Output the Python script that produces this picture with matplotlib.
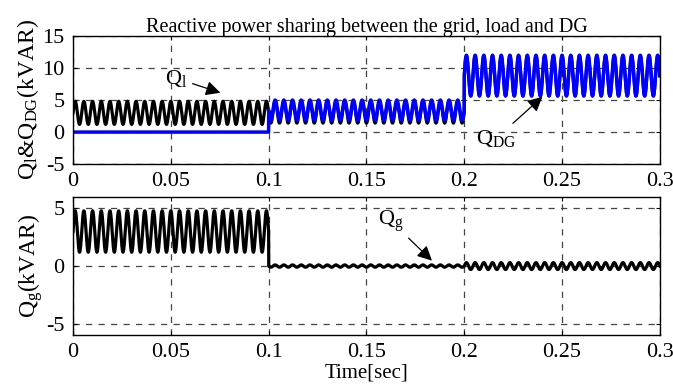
import numpy as np
import matplotlib
matplotlib.use("Agg")
import matplotlib.pyplot as plt

plt.rcParams['font.family'] = 'Liberation Serif'
plt.rcParams['mathtext.fontset'] = 'custom'
plt.rcParams['mathtext.rm'] = 'Liberation Serif'
plt.rcParams['mathtext.it'] = 'Liberation Serif:italic'
plt.rcParams['axes.unicode_minus'] = False

# segment boundaries (sec) and ripple envelope (kVAR)
seg_edges = [0.0, 0.1, 0.2, 0.3]
ripple_hz = 225

ql_low = [1.2, 1.4, 5.6]
ql_high = [4.8, 4.8, 11.9]
qdg_low = [0.0, 1.9, 5.7]
qdg_high = [0.0, 5.0, 12.0]
qg_low = [1.2, -0.1, -0.3]
qg_high = [4.8, 0.1, 0.3]

xticks = [0, 0.05, 0.1, 0.15, 0.2, 0.25, 0.3]
xticklabels = ['0', '0.05', '0.1', '0.15', '0.2', '0.25', '0.3']
top_yticks = [-5, 0, 5, 10, 15]
bot_yticks = [-5, 0, 5]


def build_wave(low, high, n=8000):
    t = np.linspace(seg_edges[0], seg_edges[-1], n)
    y = np.zeros_like(t)
    osc = 0.5 * (1 + np.sin(2 * np.pi * ripple_hz * t))
    for i in range(len(low)):
        m = (t >= seg_edges[i]) & (t < seg_edges[i + 1] + 1e-9)
        y[m] = low[i] + (high[i] - low[i]) * osc[m]
    return t, y


t, ql = build_wave(ql_low, ql_high)
_, qdg = build_wave(qdg_low, qdg_high)
_, qg = build_wave(qg_low, qg_high)

fig = plt.figure(figsize=(6.73, 3.87), dpi=100)
ax1 = fig.add_axes([0.1085, 0.576, 0.872, 0.331])
ax2 = fig.add_axes([0.1085, 0.134, 0.872, 0.357])

ax1.plot(t, ql, color='black', lw=2.3)
ax1.plot(t, qdg, color='#0000ff', lw=2.5)
ax2.plot(t, qg, color='black', lw=2.3)

for ax in (ax1, ax2):
    ax.set_xlim(0, 0.3)
    ax.set_xticks(xticks)
    ax.set_xticklabels(xticklabels)
    ax.grid(True, color='#444444', linestyle=(0, (5, 5)), lw=0.9)
    ax.tick_params(direction='in', length=3, labelsize=16, top=True, right=True, pad=6)
    for s in ax.spines.values():
        s.set_linewidth(1.0)

ax1.set_ylim(-5, 15)
ax1.set_yticks(top_yticks)
ax2.set_ylim(-6, 6)
ax2.set_yticks(bot_yticks)

ax1.set_title('Reactive power sharing between the grid, load and DG', fontsize=14.5, pad=3)
ax1.set_ylabel(r'Q$_\mathrm{l}$&Q$_\mathrm{DG}$(kVAR)', fontsize=17, labelpad=1)
ax2.set_ylabel(r'Q$_\mathrm{g}$(kVAR)', fontsize=17, labelpad=1)
ax2.set_xlabel('Time[sec]', fontsize=15, labelpad=1)

arrow = dict(arrowstyle='-|>', color='black', lw=0.9, mutation_scale=22)
ax1.annotate(r'Q$_\mathrm{l}$', xy=(0.0767, 6.0), xytext=(0.047, 8.4),
             fontsize=16, arrowprops=arrow, va='center')
ax1.annotate(r'Q$_\mathrm{DG}$', xy=(0.241, 5.8), xytext=(0.206, -1.0),
             fontsize=16, arrowprops=arrow, va='center')
ax2.annotate(r'Q$_\mathrm{g}$', xy=(0.1845, 0.3), xytext=(0.156, 3.9),
             fontsize=16, arrowprops=arrow, va='center')

fig.savefig('out.png', dpi=100)
